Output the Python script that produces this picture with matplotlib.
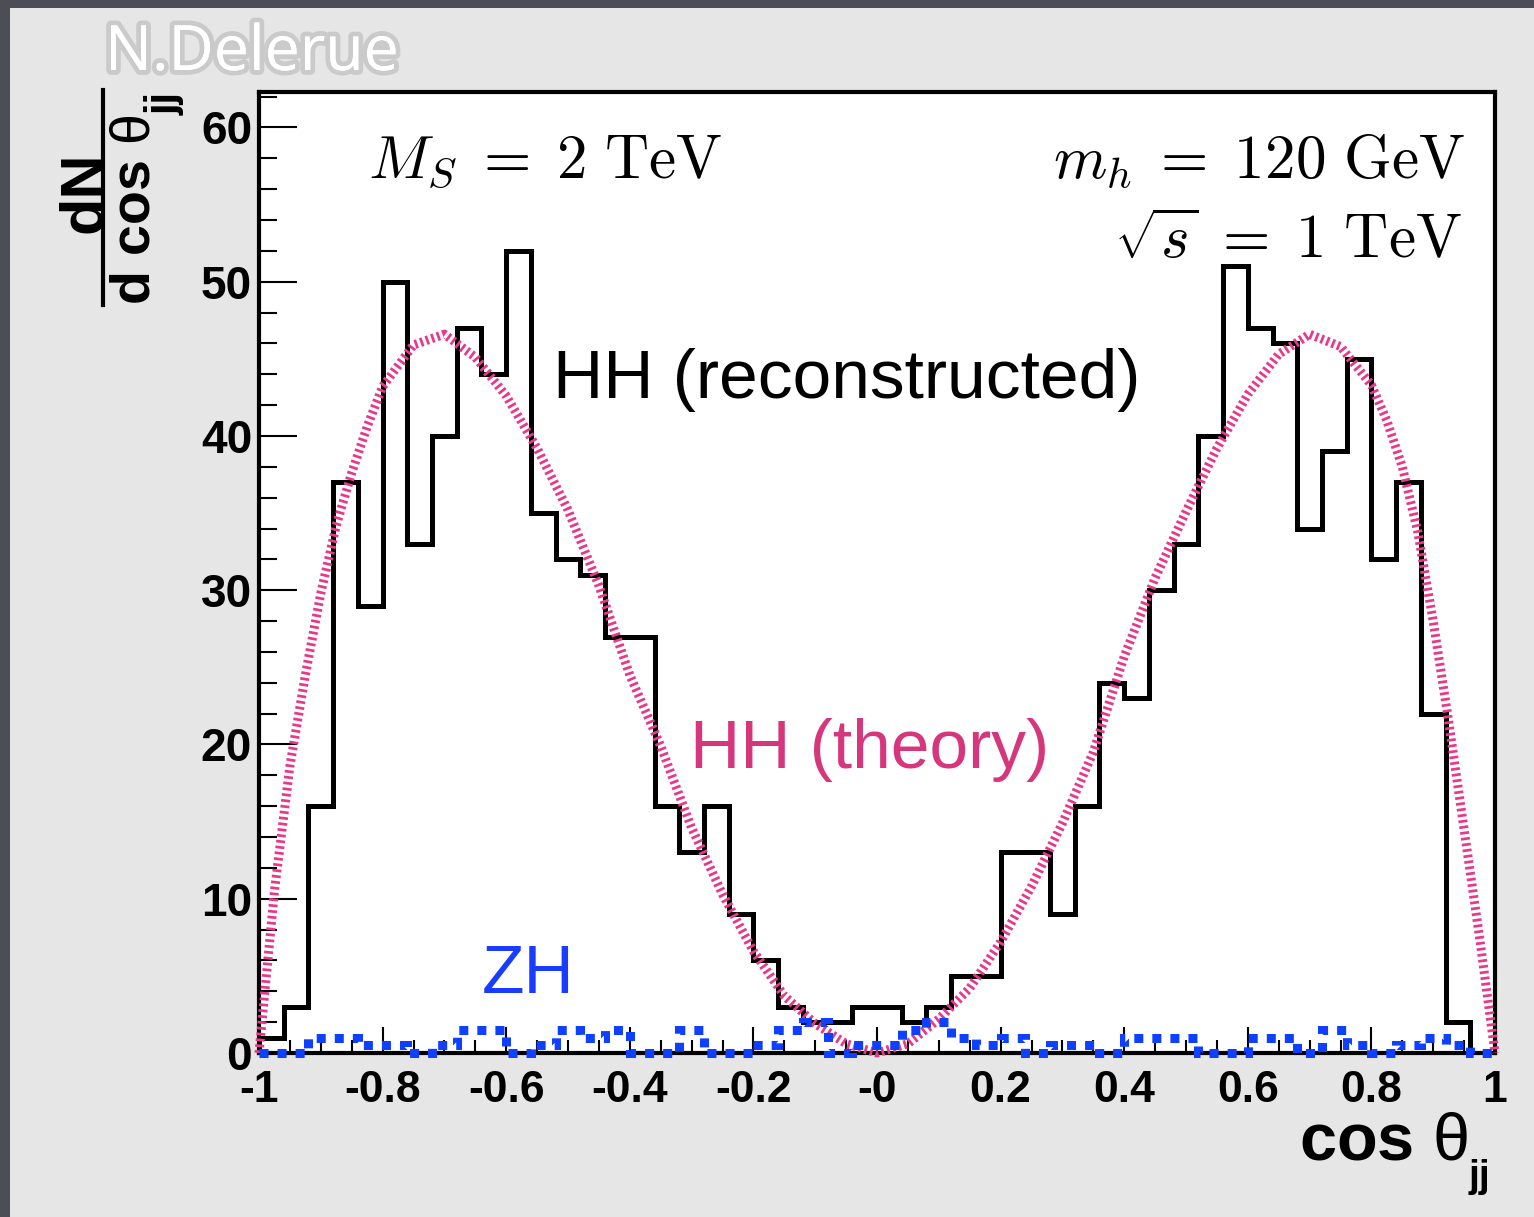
import matplotlib.pyplot as plt
import matplotlib.patheffects as pe
from matplotlib.patches import Rectangle
from matplotlib.lines import Line2D
from matplotlib.ticker import MultipleLocator
import numpy as np

# HH (reconstructed) : 50 bins between -1 and 1
hh_reco = [1, 3, 16, 37, 29, 50, 33, 40, 47, 44,
           52, 35, 32, 31, 27, 27, 16, 13, 16, 9,
           6, 3, 2, 2, 3, 3, 2, 3, 5, 5,
           13, 13, 9, 16, 24, 23, 30, 33, 40, 51,
           47, 46, 34, 39, 45, 32, 37, 22, 2, 0]

# ZH background, same binning
zh = [0, 0, 1, 1, 0.5, 0.5, 0, 0.5, 1.5, 1.5,
      0, 0.5, 1.5, 1, 1.5, 0, 0, 1.5, 0, 0,
      0.5, 1.5, 2, 0, 0.5, 0.5, 1.5, 2, 1, 0.5,
      1, 0, 0.5, 0.5, 0, 1, 1, 1, 0, 0,
      1, 1, 0, 1.5, 0.5, 0, 0.5, 1, 0.5, 0]

# HH (theory) curve
theory_x = [-1, -0.975, -0.95, -0.925, -0.9, -0.875, -0.85, -0.825, -0.8, -0.75,
            -0.7, -0.65, -0.6, -0.55, -0.5, -0.45, -0.4, -0.35, -0.3, -0.25,
            -0.2, -0.15, -0.1, -0.05, 0, 0.05, 0.1, 0.15, 0.2, 0.25,
            0.3, 0.35, 0.4, 0.45, 0.5, 0.55, 0.6, 0.65, 0.7, 0.75,
            0.8, 0.825, 0.85, 0.875, 0.9, 0.925, 0.95, 0.975, 1]
theory_y = [0, 10.5, 18.6, 24.5, 29.8, 34.2, 37.6, 40.6, 43.2, 45.9,
            46.6, 45.1, 42.6, 39.2, 35.2, 30.3, 24.5, 19.9, 14.6, 10.3,
            6.6, 3.7, 1.9, 0.6, 0, 0.6, 2.2, 4.2, 7.2, 10.8,
            14.9, 19.5, 25.7, 30.8, 35.1, 39.2, 42.7, 45.3, 46.6, 45.8,
            43.3, 41.0, 38.0, 33.8, 28.0, 21.5, 14.5, 7.5, 0]

x_ticks = [-1, -0.8, -0.6, -0.4, -0.2, 0, 0.2, 0.4, 0.6, 0.8, 1]
x_labels = ['-1', '-0.8', '-0.6', '-0.4', '-0.2', '-0', '0.2', '0.4', '0.6', '0.8', '1']
y_ticks = [0, 10, 20, 30, 40, 50, 60]

edges = np.linspace(-1, 1, len(hh_reco) + 1)

plt.rcParams['font.family'] = ['Liberation Sans', 'DejaVu Sans']
plt.rcParams['mathtext.fontset'] = 'custom'
plt.rcParams['mathtext.rm'] = 'Liberation Sans'
plt.rcParams['mathtext.bf'] = 'Liberation Sans:bold'
plt.rcParams['mathtext.it'] = 'Liberation Sans:italic'

W, H = 1534, 1217
fig = plt.figure(figsize=(W / 100, H / 100), dpi=100)
fig.patch.set_facecolor('#4b4e55')
fig.add_artist(Rectangle((10 / W, 0), 1, 1 - 8 / H, transform=fig.transFigure,
                         facecolor='#e6e6e6', edgecolor='none', zorder=0))


def fx(px):
    return px / W


def fy(py):
    return 1 - py / H


ax = fig.add_axes([fx(259), fy(1053), (1495 - 259) / W, (1053 - 92) / H])
ax.set_facecolor('white')

ax.stairs(hh_reco, edges, baseline=0, color='black', lw=3.6, zorder=3)
ax.plot(theory_x, theory_y, color='#e8388a', lw=6.5, linestyle=(0, (0.3, 0.35)),
        dash_capstyle='butt', zorder=4, clip_on=False)
ax.stairs(zh, edges, baseline=0, color='#1040ff', lw=6.5, linestyle=(0, (1.0, 1.0)),
          zorder=5, clip_on=False)

ax.set_xlim(-1, 1)
ax.set_ylim(0, 62.3)

for s in ax.spines.values():
    s.set_linewidth(3)

ax.set_xticks(x_ticks)
ax.set_xticklabels(x_labels, fontsize=32, fontweight='bold')
ax.set_yticks(y_ticks)
ax.set_yticklabels([str(v) for v in y_ticks], fontsize=33, fontweight='bold')
ax.xaxis.set_minor_locator(MultipleLocator(0.05))
ax.yaxis.set_minor_locator(MultipleLocator(2))
ax.tick_params(axis='x', which='major', direction='in', length=19, width=1.5, pad=12)
ax.tick_params(axis='x', which='minor', direction='in', length=9.5, width=1.5)
ax.tick_params(axis='y', which='major', direction='in', length=27, width=1.5, pad=5)
ax.tick_params(axis='y', which='minor', direction='in', length=13, width=1.5)

# labels inside the frame
fig.text(fx(553), fy(398), 'HH (reconstructed)', fontsize=50, color='black', va='baseline')
fig.text(fx(690), fy(768), 'HH (theory)', fontsize=50, color='#d6367c', va='baseline')
fig.text(fx(482), fy(993), 'ZH', fontsize=50, color='#1a3cff', va='baseline')

fig.text(fx(368), fy(178), r'$M_S\;=\;2\ \mathrm{TeV}$', fontsize=44,
         math_fontfamily='cm', va='baseline')
fig.text(fx(1465), fy(178), r'$m_h\;=\;120\ \mathrm{GeV}$', fontsize=44,
         math_fontfamily='cm', va='baseline', ha='right')
fig.text(fx(1462), fy(258), r'$\sqrt{s}\;=\;1\ \mathrm{TeV}$', fontsize=44,
         math_fontfamily='cm', va='baseline', ha='right')

# x axis title (bold "cos", thin theta)
fig.text(fx(1468), fy(1160), r'cos $\mathrm{\theta}$', fontsize=48, fontweight='bold',
         ha='right', va='baseline')
fig.text(fx(1469), fy(1187), 'jj', fontsize=28, fontweight='bold', va='baseline')

# y axis title (fraction)
fig.text(fx(57), fy(192), 'dN', fontsize=44, fontweight='bold', rotation=90,
         ha='left', va='center')
fig.add_artist(Line2D([fx(103), fx(103)], [fy(305), fy(90)], color='black', lw=3,
                      transform=fig.transFigure))
fig.text(fx(110), fy(305), r'd cos $\mathrm{\theta}$', fontsize=40, fontweight='bold',
         rotation=90, ha='left', va='bottom')
fig.text(fx(145), fy(92), 'jj', fontsize=30, fontweight='bold', rotation=90,
         ha='left', va='top')

fig.text(fx(105), fy(70), 'N.Delerue', fontsize=45, color='white', family='Open Sans',
         va='baseline',
         path_effects=[pe.withStroke(linewidth=7, foreground='#a8a8a8', alpha=0.45), pe.Normal()])

fig.savefig('out.png', dpi=100, facecolor=fig.get_facecolor())
